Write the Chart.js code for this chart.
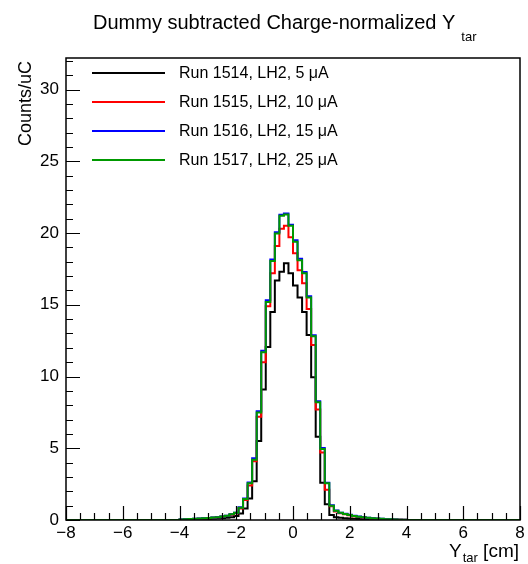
<!DOCTYPE html>
<html lang="en">
<head>
<meta charset="UTF-8">
<title>Dummy subtracted Charge-normalized Ytar</title>
<script src="https://cdn.jsdelivr.net/npm/chart.js"></script>
<style>
    * { margin: 0; padding: 0; box-sizing: border-box; }
    body { background: #ffffff; width: 528px; height: 564px; overflow: hidden; }
    .plot-box { position: relative; width: 528px; height: 564px; }
</style>
</head>
<body>
<div class="plot-box">
    <canvas id="ytarChart" width="528" height="564"></canvas>
</div>
<script>
    // binning of the histograms: 0.16 cm bins, only the filled part (-4 .. 4 cm) is listed
    const binStart = -4.0;
    const binWidth = 0.16;
    const xRange = [-8, 8];
    const yRange = [0, 32.2];
    const xTickValues = [-8, -6, -4, -2, 0, 2, 4, 6, 8];
    const yTickValues = [0, 5, 10, 15, 20, 25, 30];

    const runLabels = [
        'Run 1514, LH2, 5 \u03bcA',
        'Run 1515, LH2, 10 \u03bcA',
        'Run 1516, LH2, 15 \u03bcA',
        'Run 1517, LH2, 25 \u03bcA'
    ];

    // counts/uC per bin
    const run1514 = [0.02, 0.02, 0.03, 0.04, 0.05, 0.06, 0.07, 0.08, 0.10, 0.12,
                     0.15, 0.20, 0.28, 0.45, 0.80, 1.50, 2.70, 5.50, 9.10, 12.05,
                     14.50, 16.70, 17.30, 17.90, 17.20, 16.35, 15.50, 14.50, 12.90, 9.95,
                     5.80, 2.60, 1.10, 0.35, 0.20, 0.15, 0.12, 0.10, 0.08, 0.07,
                     0.06, 0.05, 0.04, 0.03, 0.03, 0.02, 0.02, 0.01, 0.01, 0.00];
    const run1515 = [0.02, 0.04, 0.06, 0.07, 0.09, 0.11, 0.13, 0.16, 0.19, 0.22,
                     0.28, 0.36, 0.47, 0.80, 1.40, 2.40, 4.10, 7.20, 11.00, 14.90,
                     17.20, 19.10, 20.30, 20.50, 19.70, 18.60, 17.40, 16.50, 14.70, 12.20,
                     7.70, 4.70, 2.10, 0.95, 0.60, 0.47, 0.40, 0.33, 0.26, 0.21,
                     0.17, 0.14, 0.11, 0.09, 0.07, 0.05, 0.04, 0.03, 0.02, 0.01];
    const run1516 = [0.03, 0.05, 0.07, 0.08, 0.10, 0.12, 0.14, 0.17, 0.20, 0.24,
                     0.30, 0.40, 0.50, 0.88, 1.50, 2.62, 4.30, 7.58, 11.80, 15.32,
                     18.15, 20.05, 21.28, 21.36, 20.58, 19.50, 18.20, 17.28, 15.60, 12.88,
                     8.28, 5.02, 2.60, 1.03, 0.67, 0.51, 0.43, 0.36, 0.29, 0.24,
                     0.19, 0.15, 0.12, 0.10, 0.08, 0.06, 0.05, 0.03, 0.02, 0.01];
    const run1517 = [0.03, 0.05, 0.07, 0.08, 0.10, 0.12, 0.14, 0.17, 0.20, 0.24,
                     0.30, 0.40, 0.50, 0.85, 1.46, 2.56, 4.20, 7.50, 11.70, 15.20,
                     18.05, 19.96, 21.20, 21.30, 20.50, 19.40, 18.10, 17.20, 15.50, 12.80,
                     8.20, 4.95, 2.56, 1.00, 0.65, 0.50, 0.42, 0.35, 0.28, 0.23,
                     0.19, 0.15, 0.12, 0.10, 0.08, 0.06, 0.05, 0.03, 0.02, 0.01];

    const FONT = '"Liberation Sans", Arial, Helvetica, sans-serif';

    // ROOT style histogram outline: zero outside the listed bins
    function histPoints(values) {
        var pts = [{x: xRange[0], y: 0}];
        values.forEach(function (v, i) {
            pts.push({x: binStart + i * binWidth, y: v});
        });
        pts.push({x: binStart + values.length * binWidth, y: 0});
        pts.push({x: xRange[1], y: 0});
        return pts;
    }

    function minusLabel(v) {
        return v < 0 ? '\u2212' + Math.abs(v) : String(v);
    }

    // frame, inward ticks, legend and titles drawn the way ROOT does it
    var rootDecor = {
        id: 'rootDecor',
        afterDraw: function (chart) {
            var ctx = chart.ctx;
            var area = chart.chartArea;
            var xs = chart.scales.x;
            var ys = chart.scales.y;
            ctx.save();
            ctx.strokeStyle = '#000';
            ctx.fillStyle = '#000';

            ctx.lineWidth = 1.5;
            ctx.strokeRect(area.left, area.top, area.right - area.left, area.bottom - area.top);

            ctx.lineWidth = 1.2;
            ctx.beginPath();
            for (var i = 0; i <= 32; i++) {
                var vx = xRange[0] + i * 0.5;
                var px = Math.round(xs.getPixelForValue(vx)) + 0.5;
                var lx = (i % 4 === 0) ? 14 : 7;
                ctx.moveTo(px, area.bottom);
                ctx.lineTo(px, area.bottom - lx);
            }
            for (var j = 0; j <= 32; j++) {
                var py = Math.round(ys.getPixelForValue(j)) + 0.5;
                var ly = (j % 5 === 0) ? 14 : 7;
                ctx.moveTo(area.left, py);
                ctx.lineTo(area.left + ly, py);
            }
            ctx.stroke();

            // legend, no box
            var rowsY = [73, 102, 131, 160];
            chart.data.datasets.forEach(function (ds, k) {
                ctx.strokeStyle = ds.borderColor;
                ctx.lineWidth = 2;
                ctx.beginPath();
                ctx.moveTo(92, rowsY[k]);
                ctx.lineTo(165, rowsY[k]);
                ctx.stroke();
                ctx.font = '16px ' + FONT;
                ctx.textAlign = 'left';
                ctx.textBaseline = 'middle';
                ctx.fillText(runLabels[k], 179, rowsY[k] + 1);
            });

            // title with subscript
            ctx.textBaseline = 'alphabetic';
            ctx.textAlign = 'left';
            ctx.font = '20px ' + FONT;
            var title = 'Dummy subtracted Charge-normalized Y';
            var tw = ctx.measureText(title).width;
            ctx.fillText(title, 93, 29);
            ctx.font = '13px ' + FONT;
            ctx.fillText('tar', 93 + tw + 6, 41);

            // x axis title, right aligned
            ctx.font = '19px ' + FONT;
            var cmW = ctx.measureText(' [cm]').width;
            var yW = ctx.measureText('Y').width;
            ctx.font = '13px ' + FONT;
            var tarW = ctx.measureText('tar').width;
            var xEnd = 519;
            ctx.font = '19px ' + FONT;
            ctx.fillText(' [cm]', xEnd - cmW, 557);
            ctx.font = '13px ' + FONT;
            ctx.fillText('tar', xEnd - cmW - tarW, 562);
            ctx.font = '19px ' + FONT;
            ctx.fillText('Y', xEnd - cmW - tarW - yW - 1, 557);

            // y axis title, aligned to the top
            ctx.translate(26, 61);
            ctx.rotate(-Math.PI / 2);
            ctx.textAlign = 'right';
            ctx.textBaseline = 'middle';
            ctx.font = '18px ' + FONT;
            ctx.fillText('Counts/uC', 0, 0);
            ctx.restore();
        }
    };

    var ctx = document.getElementById('ytarChart').getContext('2d');
    var ytarChart = new Chart(ctx, {
        type: 'line',
        data: {
            datasets: [
                {label: runLabels[0], data: histPoints(run1514), borderColor: '#000000', order: 4},
                {label: runLabels[1], data: histPoints(run1515), borderColor: '#ff0000', order: 3},
                {label: runLabels[2], data: histPoints(run1516), borderColor: '#0000ff', order: 2},
                {label: runLabels[3], data: histPoints(run1517), borderColor: '#009900', order: 1}
            ].map(function (d) {
                d.stepped = 'before';
                d.borderWidth = 2;
                d.pointRadius = 0;
                d.fill = false;
                d.tension = 0;
                return d;
            })
        },
        options: {
            responsive: false,
            devicePixelRatio: 1,
            animation: false,
            layout: {padding: {top: 58, right: 8, left: 0, bottom: 0}},
            plugins: {
                legend: {display: false},
                tooltip: {enabled: false},
                title: {display: false}
            },
            scales: {
                x: {
                    type: 'linear',
                    min: xRange[0],
                    max: xRange[1],
                    grid: {display: false, drawTicks: false},
                    border: {display: false},
                    afterBuildTicks: function (s) {
                        s.ticks = xTickValues.map(function (v) { return {value: v}; });
                    },
                    afterFit: function (s) { s.height = 44; },
                    ticks: {
                        font: {size: 17, family: FONT},
                        color: '#000',
                        padding: 3,
                        maxRotation: 0,
                        autoSkip: false,
                        callback: function (v) { return minusLabel(v); }
                    }
                },
                y: {
                    min: yRange[0],
                    max: yRange[1],
                    grid: {display: false, drawTicks: false},
                    border: {display: false},
                    afterBuildTicks: function (s) {
                        s.ticks = yTickValues.map(function (v) { return {value: v}; });
                    },
                    afterFit: function (s) { s.width = 66; },
                    ticks: {
                        font: {size: 17, family: FONT},
                        color: '#000',
                        padding: 7,
                        autoSkip: false,
                        callback: function (v) { return String(v); }
                    }
                }
            }
        },
        plugins: [rootDecor]
    });
</script>
</body>
</html>
